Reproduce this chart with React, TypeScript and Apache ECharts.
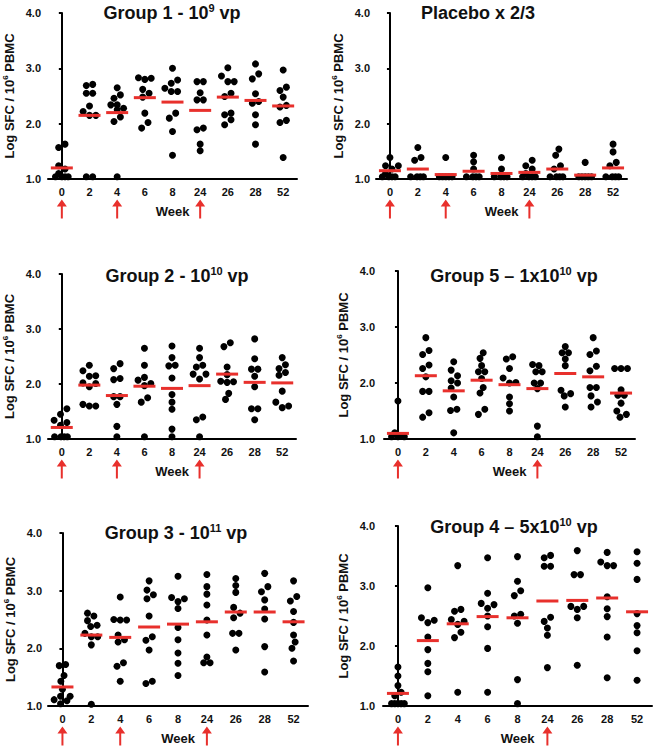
import React, { useEffect, useRef } from 'react';
import * as echarts from 'echarts';

const weekLabels = ['0', '2', '4', '6', '8', '24', '26', '28', '52'];

const group1Values: number[][] = [
  [1.63, 1.57, 1.24, 1.18, 1.1, 1.04, 1.04, 1.04, 1.04],
  [2.71, 2.69, 2.55, 2.55, 2.32, 2.22, 2.15, 2.15, 1.04, 1.04],
  [2.65, 2.52, 2.46, 2.34, 2.34, 2.28, 2.25, 2.12, 2.04, 1.04],
  [2.83, 2.82, 2.8, 2.62, 2.55, 2.48, 2.19, 2.02, 1.92],
  [3.0, 2.79, 2.73, 2.64, 2.58, 2.58, 2.19, 2.1, 1.86, 1.43],
  [2.76, 2.76, 2.56, 2.43, 2.43, 1.92, 1.89, 1.63, 1.51],
  [3.01, 2.86, 2.76, 2.76, 2.55, 2.49, 2.19, 2.16, 2.07, 1.98],
  [3.08, 2.9, 2.81, 2.54, 2.4, 2.37, 2.16, 1.98, 1.63],
  [2.97, 2.66, 2.6, 2.48, 2.33, 2.3, 2.06, 2.02, 1.39],
];
const group1Medians = [1.2, 2.15, 2.2, 2.47, 2.39, 2.24, 2.48, 2.42, 2.32];

const placeboValues: number[][] = [
  [1.39, 1.24, 1.24, 1.18, 1.1, 1.04, 1.04, 1.04, 1.04],
  [1.57, 1.39, 1.34, 1.04, 1.04, 1.04, 1.04],
  [1.39, 1.04, 1.04, 1.04, 1.04, 1.04],
  [1.43, 1.31, 1.18, 1.04, 1.04, 1.04, 1.04],
  [1.39, 1.18, 1.04, 1.04, 1.04, 1.04],
  [1.34, 1.24, 1.18, 1.1, 1.04, 1.04, 1.04, 1.04],
  [1.54, 1.43, 1.24, 1.18, 1.04, 1.04, 1.04, 1.04],
  [1.3, 1.04, 1.04, 1.04, 1.04, 1.04],
  [1.63, 1.49, 1.3, 1.24, 1.04, 1.04, 1.04, 1.04],
];
const placeboMedians = [1.15, 1.18, 1.08, 1.14, 1.1, 1.12, 1.18, 1.07, 1.2];

const group2Values: number[][] = [
  [1.55, 1.45, 1.34, 1.3, 1.25, 1.04, 1.04, 1.04, 1.04],
  [2.34, 2.24, 2.15, 2.14, 2.02, 2.01, 1.95, 1.63, 1.6, 1.6],
  [2.37, 2.28, 2.1, 2.08, 1.77, 1.77, 1.63, 1.23, 1.04],
  [2.65, 2.34, 2.12, 2.07, 2.01, 1.97, 1.75, 1.67, 1.04],
  [2.69, 2.48, 2.34, 2.33, 2.11, 1.81, 1.67, 1.54, 1.18, 1.04],
  [2.65, 2.48, 2.34, 2.31, 2.18, 2.18, 2.09, 1.4, 1.35, 1.04],
  [2.75, 2.68, 2.31, 2.17, 2.05, 2.04, 2.03, 1.83, 1.72],
  [2.82, 2.46, 2.27, 2.27, 2.14, 1.95, 1.55, 1.55, 1.35],
  [2.48, 2.35, 2.28, 2.21, 2.16, 1.87, 1.67, 1.6, 1.57],
];
const group2Medians = [1.21, 1.98, 1.79, 1.96, 1.92, 1.97, 2.18, 2.03, 2.02];

const group5Values: number[][] = [
  [1.68, 1.11, 1.05, 1.04, 1.04, 1.04],
  [2.81, 2.58, 2.51, 2.32, 2.26, 2.11, 1.85, 1.85, 1.47, 1.39],
  [2.38, 2.23, 2.13, 2.04, 2.0, 1.91, 1.75, 1.53, 1.51, 1.11],
  [2.54, 2.44, 2.31, 2.2, 2.2, 2.08, 1.92, 1.82, 1.53, 1.44],
  [2.47, 2.43, 2.26, 2.09, 2.01, 2.0, 1.75, 1.63, 1.5],
  [2.33, 2.31, 2.2, 2.2, 2.0, 2.0, 1.9, 1.23, 1.04],
  [2.65, 2.54, 2.54, 2.43, 2.31, 1.87, 1.81, 1.77, 1.57],
  [2.81, 2.57, 2.51, 2.3, 2.22, 1.92, 1.92, 1.77, 1.66, 1.57],
  [2.26, 2.26, 2.26, 1.88, 1.78, 1.78, 1.64, 1.5, 1.44, 1.39],
];
const group5Medians = [1.1, 2.13, 1.86, 2.05, 1.97, 1.9, 2.17, 2.11, 1.82];

const group3Values: number[][] = [
  [1.72, 1.7, 1.53, 1.43, 1.29, 1.17, 1.17, 1.11, 1.09, 1.04],
  [2.61, 2.56, 2.48, 2.4, 2.38, 2.26, 2.2, 2.2, 2.06, 1.03],
  [2.89, 2.5, 2.49, 2.49, 2.23, 2.15, 2.11, 1.75, 1.69, 1.43],
  [3.17, 3.01, 2.93, 2.86, 2.56, 2.2, 2.14, 1.97, 1.43, 1.39],
  [3.25, 2.88, 2.86, 2.81, 2.69, 2.36, 2.15, 1.92, 1.74, 1.53],
  [3.28, 3.07, 2.94, 2.75, 2.49, 2.23, 1.85, 1.75, 1.75],
  [3.21, 3.09, 2.97, 2.71, 2.61, 2.53, 2.26, 2.26, 1.97],
  [3.3, 3.07, 2.98, 2.84, 2.68, 2.51, 2.03, 1.59],
  [3.17, 2.9, 2.82, 2.64, 2.45, 2.23, 2.11, 2.0, 1.78],
];
const group3Medians = [1.33, 2.23, 2.19, 2.37, 2.42, 2.46, 2.63, 2.63, 2.46];

const group4Values: number[][] = [
  [1.65, 1.5, 1.34, 1.23, 1.17, 1.04, 1.04, 1.04, 1.04, 1.04],
  [2.97, 2.47, 2.43, 2.39, 2.15, 1.94, 1.71, 1.57, 1.17],
  [3.34, 2.61, 2.58, 2.44, 2.41, 2.36, 2.23, 2.14, 1.23],
  [3.47, 2.88, 2.71, 2.69, 2.63, 2.5, 2.32, 1.96, 1.23],
  [3.49, 3.08, 2.92, 2.84, 2.53, 2.5, 2.38, 1.44, 1.04],
  [3.51, 3.47, 3.33, 3.33, 2.48, 2.41, 2.3, 2.18, 1.64],
  [3.59, 3.19, 3.19, 2.66, 2.66, 2.61, 2.47, 1.68],
  [3.56, 3.4, 3.34, 3.34, 2.82, 2.62, 2.49, 2.15, 1.47],
  [3.57, 3.38, 3.11, 2.54, 2.34, 2.22, 1.92, 1.43],
];
const group4Medians = [1.21, 2.09, 2.37, 2.49, 2.47, 2.75, 2.76, 2.8, 2.57];

// arrows under weeks (category indices): weeks 0, 4, 24 / weeks 0, 24
const threeDoseArrows = [0, 2, 5];
const twoDoseArrows = [0, 5];

const yTicks = { min: 1, max: 4, interval: 1 };

const panelTitles: [string, string, string][] = [
  ['Group 1 - 10', '9', ' vp'],
  ['Placebo x 2/3', '', ''],
  ['Group 2 - 10', '10', ' vp'],
  ['Group 5 \u2013 1x10', '10', ' vp'],
  ['Group 3 - 10', '11', ' vp'],
  ['Group 4 \u2013 5x10', '10', ' vp'],
];

const panelData = [
  { values: group1Values, medians: group1Medians, arrows: threeDoseArrows },
  { values: placeboValues, medians: placeboMedians, arrows: threeDoseArrows },
  { values: group2Values, medians: group2Medians, arrows: threeDoseArrows },
  { values: group5Values, medians: group5Medians, arrows: twoDoseArrows },
  { values: group3Values, medians: group3Medians, arrows: threeDoseArrows },
  { values: group4Values, medians: group4Medians, arrows: twoDoseArrows },
];

// layout (pixels)
const panelLayout = [
  { left: 47, top: 13, width: 250, height: 166, yOffset: 2, titleX: 172, titleY: 2 },
  { left: 376, top: 13, width: 251, height: 166, yOffset: 1, titleX: 478, titleY: 2 },
  { left: 48, top: 274, width: 248, height: 165, yOffset: 2, titleX: 177, titleY: 265 },
  { left: 384, top: 271, width: 251, height: 168, yOffset: 4, titleX: 514, titleY: 265 },
  { left: 48, top: 533, width: 260, height: 173, yOffset: 1, titleX: 176, titleY: 522 },
  { left: 383, top: 526, width: 269, height: 180, yOffset: 3, titleX: 514, titleY: 516 },
];

const FONT = '"Liberation Sans", Arial, Helvetica, sans-serif';
const RED = '#e8302c';
const DOT = 7;
const ARROW_PATH = 'path://M5 0 L10 7 L6 7 L6 19 L4 19 L4 7 L0 7 Z';

// Simple deterministic beeswarm: spreads overlapping dots sideways, within a cap.
function swarmOffsets(vals: number[], pxPerUnit: number, minDist: number, cap: number): number[] {
  const idx = vals.map((_, i) => i).sort((a, b) => vals[a] - vals[b]);
  const xs: number[] = new Array(vals.length).fill(0);
  const placed: number[] = [];
  const step = minDist / 2;
  for (const i of idx) {
    const y = vals[i] * pxPerUnit;
    let best = 0;
    let bestD = -1;
    for (let k = 0; k < 200; k++) {
      const c = k === 0 ? 0 : (k % 2 ? 1 : -1) * Math.ceil(k / 2) * step;
      if (Math.abs(c) > cap) break;
      let d = Infinity;
      for (const j of placed) d = Math.min(d, Math.hypot(xs[j] - c, vals[j] * pxPerUnit - y));
      if (d >= minDist) {
        best = c;
        bestD = d;
        break;
      }
      if (d > bestD + 0.01) {
        bestD = d;
        best = c;
      }
    }
    xs[i] = best;
    placed.push(i);
  }
  let start = 0;
  while (start < idx.length) {
    let end = start;
    while (end + 1 < idx.length && (vals[idx[end + 1]] - vals[idx[end]]) * pxPerUnit < minDist) end++;
    const members = idx.slice(start, end + 1);
    const mean = members.reduce((s, j) => s + xs[j], 0) / members.length;
    members.forEach((j) => (xs[j] -= mean));
    start = end + 1;
  }
  return xs;
}

function buildOption() {
  const grid: any[] = [];
  const xAxis: any[] = [];
  const yAxis: any[] = [];
  const series: any[] = [];
  const title: any[] = [];

  panelData.forEach((p, k) => {
    const L = panelLayout[k];
    grid.push({ left: L.left, top: L.top, width: L.width, height: L.height, containLabel: false });
    xAxis.push({
      type: 'category',
      gridIndex: k,
      data: weekLabels,
      boundaryGap: true,
      axisLine: { lineStyle: { color: '#000', width: 2 } },
      axisTick: { show: false },
      axisLabel: { color: '#111', fontFamily: FONT, fontWeight: 'bold', fontSize: 11, margin: 7, interval: 0 },
      name: 'Week',
      nameLocation: 'middle',
      nameGap: 26,
      nameTextStyle: { color: '#111', fontFamily: FONT, fontWeight: 'bold', fontSize: 13 },
      splitLine: { show: false },
    });
    xAxis.push({ type: 'value', gridIndex: k, min: -0.5, max: 8.5, show: false });
    yAxis.push({
      type: 'value',
      gridIndex: k,
      min: yTicks.min,
      max: yTicks.max,
      interval: yTicks.interval,
      offset: L.yOffset,
      axisLine: { show: true, lineStyle: { color: '#000', width: 2 } },
      axisTick: { show: true, length: 3, lineStyle: { color: '#000', width: 2 } },
      axisLabel: {
        color: '#111',
        fontFamily: FONT,
        fontWeight: 'bold',
        fontSize: 11,
        margin: 5,
        formatter: (v: number) => v.toFixed(1),
      },
      splitLine: { show: false },
      name: '{a|Log SFC / 10}{s|6}{a| PBMC}',
      nameLocation: 'middle',
      nameRotate: 90,
      nameGap: 29,
      nameTextStyle: {
        rich: {
          a: { fontFamily: FONT, fontWeight: 'bold', fontSize: 13, color: '#111', lineHeight: 16 },
          s: { fontFamily: FONT, fontWeight: 'bold', fontSize: 8, color: '#111', verticalAlign: 'top', lineHeight: 10 },
        },
      },
    });

    const pxPerUnit = L.height / (yTicks.max - yTicks.min);
    const catPx = L.width / weekLabels.length;
    const dots: number[][] = [];
    p.values.forEach((vals, ci) => {
      const offs = swarmOffsets(vals, pxPerUnit, 6.4, 10);
      vals.forEach((v, j) => dots.push([ci + offs[j] / catPx, v]));
    });
    series.push({
      type: 'scatter',
      xAxisIndex: 2 * k + 1,
      yAxisIndex: k,
      data: dots,
      symbol: 'circle',
      symbolSize: DOT,
      itemStyle: { color: '#000', opacity: 1 },
      clip: false,
      z: 2,
    });
    series.push({
      type: 'scatter',
      xAxisIndex: 2 * k + 1,
      yAxisIndex: k,
      data: p.medians.map((m, ci) => [ci, m]),
      symbol: 'rect',
      symbolSize: [22, 3],
      itemStyle: { color: RED, opacity: 1 },
      clip: false,
      z: 3,
    });
    series.push({
      type: 'scatter',
      xAxisIndex: 2 * k + 1,
      yAxisIndex: k,
      data: p.arrows.map((ci) => [ci, yTicks.min]),
      symbol: ARROW_PATH,
      symbolSize: [10, 19],
      symbolOffset: [0, 30],
      itemStyle: { color: RED, opacity: 1 },
      clip: false,
      z: 3,
    });

    const [main, sup, tail] = panelTitles[k];
    const text = sup ? `{a|${main}}{s|${sup}}{a|${tail}}` : `{a|${main}}`;
    title.push({
      text,
      left: L.titleX,
      top: L.titleY,
      textAlign: 'center',
      padding: 0,
      textStyle: {
        rich: {
          a: { fontFamily: FONT, fontWeight: 'bold', fontSize: 18, color: '#111', lineHeight: 22 },
          s: { fontFamily: FONT, fontWeight: 'bold', fontSize: 11, color: '#111', verticalAlign: 'top', lineHeight: 12 },
        },
      },
    });
  });

  return {
    animation: false,
    backgroundColor: '#fff',
    title,
    grid,
    xAxis,
    yAxis,
    series,
  };
}

export default function App() {
  const ref = useRef<HTMLDivElement>(null);
  useEffect(() => {
    if (!ref.current) return;
    const chart = echarts.init(ref.current, undefined, { renderer: 'svg' });
    chart.setOption(buildOption() as any);
    return () => chart.dispose();
  }, []);
  return (
    <div
      ref={ref}
      style={{ position: 'absolute', left: 0, top: 0, width: 654, height: 749, background: '#fff' }}
    />
  );
}
